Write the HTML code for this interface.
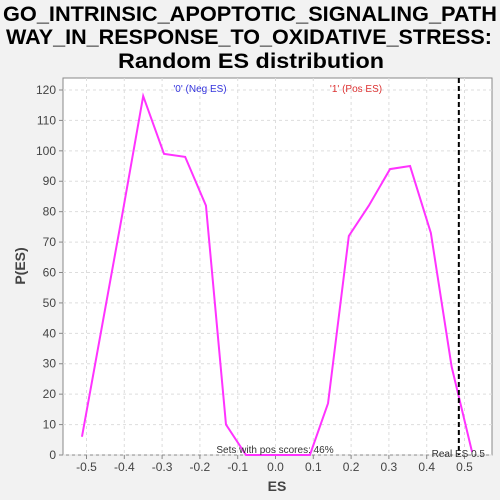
<!DOCTYPE html>
<html><head><meta charset="utf-8"><style>
body{margin:0;background:#f0f0f0;}
svg{display:block;font-family:"Liberation Sans","DejaVu Sans",sans-serif;}
</style></head><body>
<svg id="chart" width="500" height="500">
<rect width="500" height="500" fill="#f2f2f2"/>
<text x="250" y="21" text-anchor="middle" font-size="21" font-weight="bold" fill="#000" textLength="494" lengthAdjust="spacingAndGlyphs">GO_INTRINSIC_APOPTOTIC_SIGNALING_PATH</text>
<text x="249" y="44" text-anchor="middle" font-size="21" font-weight="bold" fill="#000" textLength="486" lengthAdjust="spacingAndGlyphs">WAY_IN_RESPONSE_TO_OXIDATIVE_STRESS:</text>
<text x="251" y="68" text-anchor="middle" font-size="21" font-weight="bold" fill="#000" textLength="266" lengthAdjust="spacingAndGlyphs">Random ES distribution</text>
<rect x="63" y="78" width="429" height="377" fill="#fff" stroke="#888"/>
<g id="grid"></g><g id="axes"></g><g id="series"></g>
<text x="200" y="92" text-anchor="middle" font-size="10" fill="#3333dd">'0' (Neg ES)</text>
<text x="356" y="92" text-anchor="middle" font-size="10" fill="#dd3333">'1' (Pos ES)</text>
<text x="275" y="453" text-anchor="middle" font-size="10" fill="#333">Sets with pos scores: 46%</text>
<text x="485" y="457" text-anchor="end" font-size="10" fill="#333">Real ES 0.5</text>
<text x="277" y="491" text-anchor="middle" font-size="14" font-weight="bold" fill="#444">ES</text>
<text x="25" y="266" text-anchor="middle" font-size="14" font-weight="bold" fill="#444" transform="rotate(-90 25 266)">P(ES)</text>
</svg>
<script>
const esValues=[-0.512,-0.458,-0.404,-0.35,-0.295,-0.239,-0.184,-0.131,-0.078,-0.025,0.037,0.091,0.139,0.194,0.247,0.303,0.356,0.411,0.466,0.52];
const probValues=[6,43,80,118,99,98,82,10,0,0,0,0,17,72,82,94,95,73,29,1];
const xTicks=[-0.5,-0.4,-0.3,-0.2,-0.1,0.0,0.1,0.2,0.3,0.4,0.5];
const yTicks=[0,10,20,30,40,50,60,70,80,90,100,110,120];
const realES=[0.485];
const NS="http://www.w3.org/2000/svg";
const xS=v=>275.5+v*378;
const yS=v=>455-v*3.0417;
function mk(t,a,p){const e=document.createElementNS(NS,t);for(const k in a)e.setAttribute(k,a[k]);p.appendChild(e);return e;}
const grid=document.getElementById('grid'),axes=document.getElementById('axes'),ser=document.getElementById('series');
xTicks.forEach(t=>{
 const g=mk('line',{x1:xS(t),x2:xS(t),y1:78,y2:455,stroke:'#ddd','stroke-dasharray':'3,3'},grid);
 
 
 const k=mk('line',{x1:xS(t),x2:xS(t),y1:455,y2:459,stroke:'#888'},axes);
 
 
 const l=mk('text',{x:xS(t),y:471,'text-anchor':'middle','font-size':12,fill:'#444'},axes);
 l.textContent=t.toFixed(1);
 
 
});
yTicks.forEach(t=>{
 const g=mk('line',{x1:63,x2:492,y1:yS(t),y2:yS(t),stroke:'#ddd','stroke-dasharray':'3,3'},grid);
 
 
 const k=mk('line',{x1:59,x2:63,y1:yS(t),y2:yS(t),stroke:'#888'},axes);
 
 
 const l=mk('text',{x:56,y:yS(t)+4,'text-anchor':'end','font-size':12,fill:'#444'},axes);
 l.textContent=t;
 
 
});
const pts=esValues.map((v,i)=>xS(v)+','+yS(probValues[i])).join(' ');
const pl=mk('polyline',{points:pts,fill:'none',stroke:'#ff33ff','stroke-width':2},ser);


realES.forEach(v=>{
 const d=mk('line',{x1:xS(v),x2:xS(v),y1:78,y2:455,stroke:'#000','stroke-width':2,'stroke-dasharray':'5,3'},ser);
 
 
});
</script>
</body></html>
